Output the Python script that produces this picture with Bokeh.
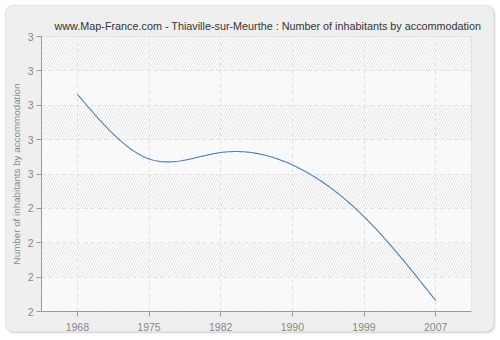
import numpy as np
from bokeh.plotting import figure
from bokeh.models import FixedTicker, BoxAnnotation, Range1d
from bokeh.embed import file_html
from bokeh.resources import INLINE

years = ["1968", "1975", "1982", "1990", "1999", "2007"]
values = [2.79, 2.555, 2.578, 2.533, 2.345, 2.04]
y_ticks = [2.0, 2.125, 2.25, 2.375, 2.5, 2.625, 2.75, 2.875, 3.0]
y_tick_labels = ["2", "2", "2", "2", "3", "3", "3", "3", "3"]

title = "www.Map-France.com - Thiaville-sur-Meurthe : Number of inhabitants by accommodation"
y_label = "Number of inhabitants by accommodation"

FONT = "Liberation Sans"

# natural cubic spline through the data (for a smooth rendering)
x = np.arange(len(values), dtype=float)
y = np.array(values)
n = len(x)
h = np.diff(x)
A = np.zeros((n, n))
r = np.zeros(n)
A[0, 0] = 1
A[-1, -1] = 1
for i in range(1, n - 1):
    A[i, i - 1] = h[i - 1]
    A[i, i] = 2 * (h[i - 1] + h[i])
    A[i, i + 1] = h[i]
    r[i] = 3 * ((y[i + 1] - y[i]) / h[i] - (y[i] - y[i - 1]) / h[i - 1])
c = np.linalg.solve(A, r)
xs, ys = [], []
for i in range(n - 1):
    b = (y[i + 1] - y[i]) / h[i] - h[i] * (2 * c[i] + c[i + 1]) / 3
    d = (c[i + 1] - c[i]) / (3 * h[i])
    t = np.linspace(0, h[i], 40, endpoint=(i == n - 2))
    xs.extend(x[i] + t)
    ys.extend(y[i] + b * t + c[i] * t ** 2 + d * t ** 3)

p = figure(width=489, height=327, output_backend="svg", toolbar_location=None,
           x_range=Range1d(-0.5, len(years) - 0.5), y_range=Range1d(y_ticks[0], y_ticks[-1]),
           min_border_left=35, min_border_right=24, min_border_top=30, min_border_bottom=22)
p.margin = (5, 5, 5, 5)
p.border_fill_color = None
p.styles = {"background-color": "#efefef", "border-radius": "8px",
            "box-shadow": "1px 1px 2px #d0d0d0", "border": "1px solid #e4e4e4"}
p.background_fill_color = "#ffffff"
p.outline_line_color = "#d8d8d8"

p.title.text = title
p.title.text_font = FONT
p.title.text_font_size = "10.8px"
p.title.text_font_style = "normal"
p.title.text_color = "#333333"
p.title.align = "left"
p.title.offset = 13

# hatched background
p.add_layout(BoxAnnotation(fill_color="#ffffff", fill_alpha=1.0, hatch_pattern="/",
                           hatch_color="#e2e2e2", hatch_scale=5, hatch_weight=1,
                           line_color=None, level="image"))
for i in range(0, len(y_ticks) - 1, 2):
    p.add_layout(BoxAnnotation(bottom=y_ticks[i], top=y_ticks[i + 1], fill_color="#fafafa",
                               fill_alpha=0.8, line_color=None, level="image"))

p.line(xs, ys, line_color="#4f7fb5", line_width=1.1)

p.xaxis.ticker = FixedTicker(ticks=list(range(len(years))))
p.xaxis.major_label_overrides = {i: yv for i, yv in enumerate(years)}
p.yaxis.ticker = FixedTicker(ticks=y_ticks)
p.yaxis.major_label_overrides = {t: l for t, l in zip(y_ticks, y_tick_labels)}
p.yaxis.axis_label = y_label

for ax in (p.xaxis[0], p.yaxis[0]):
    ax.axis_line_color = "#999999"
    ax.major_tick_line_color = "#999999"
    ax.major_tick_out = 5
    ax.major_tick_in = 0
    ax.minor_tick_line_color = None
    ax.major_label_text_font = FONT
    ax.major_label_text_font_size = "10.5px"
    ax.major_label_text_color = "#888888"
    ax.axis_label_text_font = FONT
    ax.axis_label_text_font_size = "9.8px"
    ax.axis_label_text_font_style = "normal"
    ax.axis_label_text_color = "#888888"
p.yaxis.major_label_standoff = 3
p.yaxis.axis_label_standoff = 3
p.xaxis.major_label_standoff = 6

for g in (p.xgrid[0], p.ygrid[0]):
    g.grid_line_color = "#e2e2e2"
    g.grid_line_dash = "4 3"
    g.grid_line_width = 1
p.ygrid.ticker = FixedTicker(ticks=y_ticks)

open("out.html", "w").write(file_html(p, INLINE))
